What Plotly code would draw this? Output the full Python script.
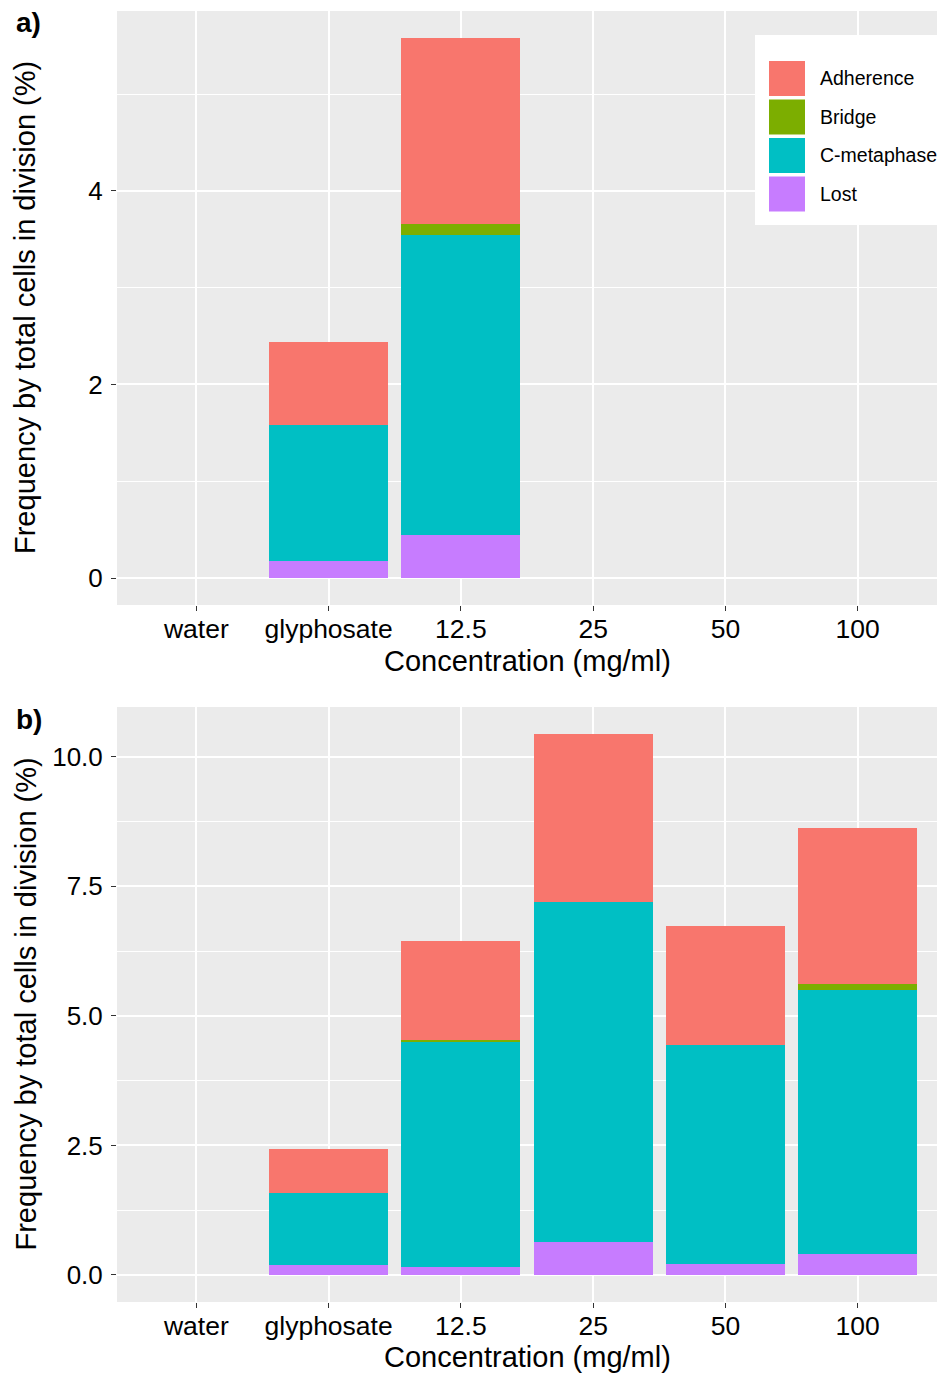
import plotly.graph_objects as go

# Concentration groups along the x axis
categories = ["water", "glyphosate", "12.5", "25", "50", "100"]

# Aberration types, stacked bottom to top
types = ["Lost", "C-metaphase", "Bridge", "Adherence"]
colors = {"Adherence": "#F8766D", "Bridge": "#7CAE00",
          "C-metaphase": "#00BFC4", "Lost": "#C77CFF"}

# Panel a) frequencies (%)
a_lost = [0, 0.18, 0.44, 0, 0, 0]
a_cmeta = [0, 1.40, 3.10, 0, 0, 0]
a_bridge = [0, 0, 0.12, 0, 0, 0]
a_adherence = [0, 0.86, 1.92, 0, 0, 0]

# Panel b) frequencies (%)
b_lost = [0, 0.19, 0.16, 0.64, 0.22, 0.40]
b_cmeta = [0, 1.39, 4.35, 6.56, 4.22, 5.10]
b_bridge = [0, 0, 0.02, 0, 0, 0.11]
b_adherence = [0, 0.86, 1.91, 3.24, 2.29, 3.02]

panel_a = {"Lost": a_lost, "C-metaphase": a_cmeta, "Bridge": a_bridge, "Adherence": a_adherence}
panel_b = {"Lost": b_lost, "C-metaphase": b_cmeta, "Bridge": b_bridge, "Adherence": b_adherence}

W, H = 937, 1374
FONT = "Liberation Sans, Arial, sans-serif"


def px_x(v):
    return v / W


def px_y(v):
    return 1 - v / H


fig = go.Figure()
for data, xa, ya in [(panel_a, "x", "y"), (panel_b, "x2", "y2")]:
    for t in types:
        fig.add_trace(go.Bar(
            x=categories, y=data[t], name=t, xaxis=xa, yaxis=ya,
            marker=dict(color=colors[t], line=dict(width=0)),
            showlegend=False,
        ))


def totals(data):
    return [sum(v) for v in zip(*data.values())]


max_a = max(totals(panel_a))
max_b = max(totals(panel_b))

x_common = dict(
    type="category", categoryorder="array", categoryarray=categories,
    range=[-0.6, len(categories) - 0.4],
    showgrid=True, gridcolor="white", gridwidth=1.6,
    ticks="outside", ticklen=5, tickwidth=1.2, tickcolor="#333333",
    tickfont=dict(family=FONT, size=26.5, color="black"),
    ticklabelstandoff=-5,
    showline=False, zeroline=False, domain=[px_x(117), 1],
)
y_common = dict(
    showgrid=True, gridcolor="white", gridwidth=1.6,
    ticks="outside", ticklen=5, tickwidth=1.2, tickcolor="#333333",
    tickfont=dict(family=FONT, size=26, color="black"),
    showline=False, zeroline=False, ticklabelstandoff=3,
)

fig.update_layout(
    width=W, height=H,
    margin=dict(l=0, r=0, t=0, b=0),
    paper_bgcolor="white", plot_bgcolor="#EBEBEB",
    barmode="stack", bargap=0.1,
    xaxis=dict(**x_common, anchor="y"),
    xaxis2=dict(**x_common, anchor="y2"),
    yaxis=dict(**y_common, anchor="x", domain=[px_y(605), px_y(11)],
               range=[-0.05 * max_a, 1.05 * max_a], tickvals=[0, 2, 4],
               ticktext=["0", "2", "4"],
               minor=dict(showgrid=True, gridcolor="white", gridwidth=0.8,
                          tickvals=[1, 3, 5], ticks="")),
    yaxis2=dict(**y_common, anchor="x2", domain=[px_y(1302), px_y(707)],
                range=[-0.05 * max_b, 1.05 * max_b],
                tickvals=[0, 2.5, 5, 7.5, 10],
                ticktext=["0.0", "2.5", "5.0", "7.5", "10.0"],
                minor=dict(showgrid=True, gridcolor="white", gridwidth=0.8,
                           tickvals=[1.25, 3.75, 6.25, 8.75], ticks="")),
)

annotations = []
# Panel tags
for tag, yc in [("a)", 22), ("b)", 719)]:
    annotations.append(dict(text="<b>%s</b>" % tag, x=px_x(14), y=px_y(yc),
                            xref="paper", yref="paper", xanchor="left", yanchor="middle",
                            showarrow=False, font=dict(family=FONT, size=28, color="black")))
# Axis titles
for top, bottom, xt_y in [(11, 605, 661), (707, 1302, 1357)]:
    annotations.append(dict(text="Frequency by total cells in division (%)",
                            x=px_x(25), y=px_y((top + bottom) / 2), textangle=-90,
                            xref="paper", yref="paper", xanchor="center", yanchor="middle",
                            showarrow=False, font=dict(family=FONT, size=29, color="black")))
    annotations.append(dict(text="Concentration (mg/ml)",
                            x=px_x((117 + 937) / 2), y=px_y(xt_y),
                            xref="paper", yref="paper", xanchor="center", yanchor="middle",
                            showarrow=False, font=dict(family=FONT, size=29, color="black")))

# Legend drawn inside panel a
shapes = [dict(type="rect", xref="paper", yref="paper",
               x0=px_x(755), x1=px_x(W + 5), y0=px_y(225), y1=px_y(35),
               fillcolor="white", line=dict(width=0), layer="above")]
legend_order = ["Adherence", "Bridge", "C-metaphase", "Lost"]
for i, t in enumerate(legend_order):
    top = 61 + i * 38.5
    shapes.append(dict(type="rect", xref="paper", yref="paper",
                       x0=px_x(769), x1=px_x(805), y0=px_y(top + 35), y1=px_y(top),
                       fillcolor=colors[t], line=dict(width=0), layer="above"))
    annotations.append(dict(text=t, x=px_x(818), y=px_y(top + 17.5),
                            xref="paper", yref="paper", xanchor="left", yanchor="middle",
                            showarrow=False, font=dict(family=FONT, size=19.5, color="black")))

fig.update_layout(annotations=annotations, shapes=shapes)
fig.write_html("out.html")
